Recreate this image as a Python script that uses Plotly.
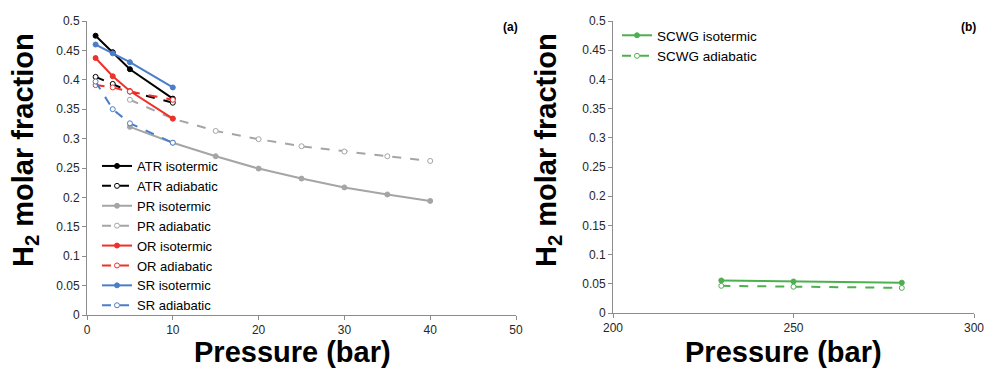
import plotly.graph_objects as go

# ---- data ----
p_short = [1, 3, 5, 10]
atr_iso = [0.475, 0.447, 0.418, 0.368]
atr_adi = [0.405, 0.393, 0.380, 0.361]
or_iso = [0.437, 0.406, 0.381, 0.334]
or_adi = [0.391, 0.387, 0.380, 0.366]
sr_iso = [0.460, 0.445, 0.430, 0.387]
sr_adi = [0.397, 0.350, 0.326, 0.293]

p_pr = [5, 10, 15, 20, 25, 30, 35, 40]
pr_iso = [0.320, 0.293, 0.270, 0.249, 0.232, 0.217, 0.205, 0.194]
pr_adi = [0.366, 0.334, 0.313, 0.299, 0.287, 0.278, 0.270, 0.262]

p_scwg = [230, 250, 280]
scwg_iso = [0.0557, 0.054, 0.052]
scwg_adi = [0.0465, 0.045, 0.043]

BLACK = "#000000"
GRAY = "#A5A5A5"
RED = "#F0302A"
BLUE = "#4A7EC9"
GREEN = "#4DB04F"

fig = go.Figure()

def add(x, y, name, color, dashed, xa="x", ya="y", legend="legend"):
    fig.add_trace(go.Scatter(
        x=x, y=y, name=name, mode="lines+markers",
        line=dict(color=color, width=2, dash="dash" if dashed else "solid"),
        marker=dict(size=5, color="white" if dashed else color,
                    line=dict(color=color, width=1), symbol="circle"),
        xaxis=xa, yaxis=ya, legend=legend))

add(p_short, atr_iso, "ATR isotermic", BLACK, False)
add(p_short, atr_adi, "ATR adiabatic", BLACK, True)
add(p_pr, pr_iso, "PR isotermic", GRAY, False)
add(p_pr, pr_adi, "PR adiabatic", GRAY, True)
add(p_short, or_iso, "OR isotermic", RED, False)
add(p_short, or_adi, "OR adiabatic", RED, True)
add(p_short, sr_iso, "SR isotermic", BLUE, False)
add(p_short, sr_adi, "SR adiabatic", BLUE, True)
add(p_scwg, scwg_iso, "SCWG isotermic", GREEN, False, "x2", "y2", "legend2")
add(p_scwg, scwg_adi, "SCWG adiabatic", GREEN, True, "x2", "y2", "legend2")

W, H = 987, 372
FONT = "Liberation Sans, Arial"
axis_common = dict(showline=True, linecolor="#8C8C8C", linewidth=1, showgrid=False,
                   zeroline=False, ticks="outside", ticklen=4, tickcolor="#8C8C8C",
                   automargin=False,
                   tickfont=dict(family=FONT, size=12, color="#262626"))

fig.update_layout(
    template="none",
    width=W, height=H, margin=dict(l=0, r=0, t=0, b=0, pad=0),
    paper_bgcolor="white", plot_bgcolor="white",
    font=dict(family=FONT, color="#000"),
    xaxis=dict(domain=[87 / W, 516 / W], range=[0, 50], dtick=10, anchor="y", **axis_common),
    yaxis=dict(domain=[1 - 315 / H, 1 - 21 / H], range=[0, 0.5], dtick=0.05,
               tickformat="~g", anchor="x", **axis_common),
    xaxis2=dict(domain=[613 / W, 974 / W], range=[200, 300], dtick=50, anchor="y2", **axis_common),
    yaxis2=dict(domain=[1 - 313 / H, 1 - 21 / H], range=[0, 0.5], dtick=0.05,
                tickformat="~g", anchor="x2", **axis_common),
    legend=dict(x=97 / W, y=1 - 151 / H, xanchor="left", yanchor="top",
                font=dict(family=FONT, size=13, color="#000"), bgcolor="rgba(0,0,0,0)",
                itemwidth=30, tracegroupgap=0, borderwidth=0),
    legend2=dict(x=617 / W, y=1 - 20 / H, xanchor="left", yanchor="top",
                 font=dict(family=FONT, size=13.5, color="#000"), bgcolor="rgba(0,0,0,0)",
                 itemwidth=30, borderwidth=0),
)

title_font = dict(family=FONT, size=29, color="#000")
anns = [
    dict(text="<b>H<sub>2</sub> molar fraction</b>", x=25 / W, y=1 - 150 / H, textangle=-90),
    dict(text="<b>H<sub>2</sub> molar fraction</b>", x=548 / W, y=1 - 150 / H, textangle=-90),
    dict(text="<b>Pressure (bar)</b>", x=292 / W, y=1 - 352 / H),
    dict(text="<b>Pressure (bar)</b>", x=783 / W, y=1 - 352 / H),
]
for a in anns:
    fig.add_annotation(xref="paper", yref="paper", showarrow=False,
                       xanchor="center", yanchor="middle", font=title_font, **a)

for txt, xp in [("(a)", 510), ("(b)", 968)]:
    fig.add_annotation(text="<b>" + txt + "</b>", xref="paper", yref="paper",
                       x=xp / W, y=1 - 27 / H, showarrow=False,
                       xanchor="center", yanchor="middle",
                       font=dict(family=FONT, size=12, color="#000"))

fig.write_html("out.html", config={"displayModeBar": False},
               post_script="document.body.style.margin='0';document.body.style.overflow='hidden';")
